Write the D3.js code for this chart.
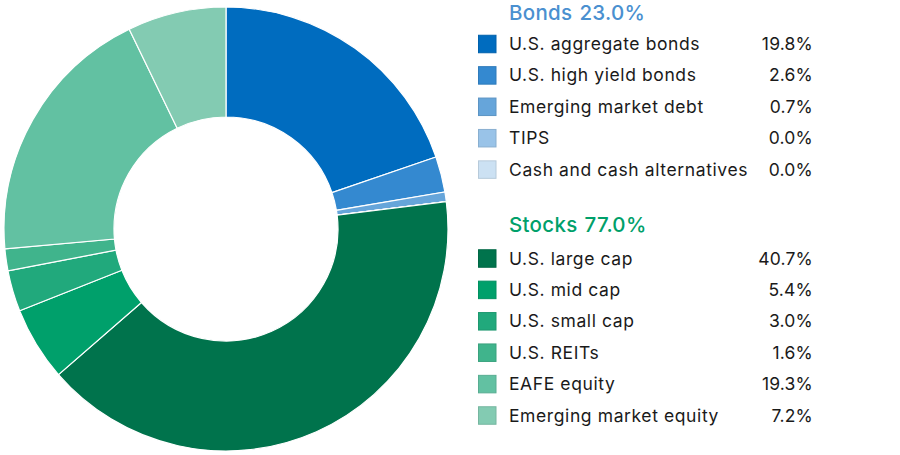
<!DOCTYPE html>
<html>
<head>
<meta charset="utf-8">
<script src="https://cdn.jsdelivr.net/npm/d3@7"></script>
<style>
  body { margin: 0; background: #fff; }
  svg { display: block; font-family: Inter, "Noto Sans", sans-serif; }
  .item { font-size: 17.5px; fill: #1a1a1a; letter-spacing: 0.6px; }
  .value { letter-spacing: 0.2px; }
  .group-title { font-size: 20.5px; font-weight: 500; letter-spacing: 0.3px; }
</style>
</head>
<body>
<svg id="chart" width="900" height="455"></svg>
<script>
const groups = ['Bonds', 'Stocks'];
const groupTotals = ['23.0%', '77.0%'];
const groupColors = ['#4a90d0', '#00a06a'];

const bondNames = ['U.S. aggregate bonds', 'U.S. high yield bonds', 'Emerging market debt', 'TIPS', 'Cash and cash alternatives'];
const bondValues = [19.8, 2.6, 0.7, 0.0, 0.0];
const bondColors = ['#006cbf', '#3489d0', '#66a5da', '#99c3e8', '#cce1f3'];

const stockNames = ['U.S. large cap', 'U.S. mid cap', 'U.S. small cap', 'U.S. REITs', 'EAFE equity', 'Emerging market equity'];
const stockValues = [40.7, 5.4, 3.0, 1.6, 19.3, 7.2];
const stockColors = ['#00734c', '#00a06b', '#21a97c', '#40b48c', '#62c1a2', '#83cbb2'];

const slices = bondNames.map((n, i) => ({ name: n, value: bondValues[i], color: bondColors[i] }))
  .concat(stockNames.map((n, i) => ({ name: n, value: stockValues[i], color: stockColors[i] })));

const svg = d3.select('#chart');

const cx = 226, cy = 229;
const outerR = 222, innerR = 112;

const pie = d3.pie()
  .value(d => d.value)
  .sort(null);

const arc = d3.arc()
  .innerRadius(innerR)
  .outerRadius(outerR);

svg.append('g')
  .attr('transform', `translate(${cx}, ${cy})`)
  .selectAll('path')
  .data(pie(slices))
  .enter()
  .append('path')
  .attr('d', arc)
  .attr('fill', d => d.data.color)
  .attr('stroke', '#fff')
  .attr('stroke-width', 1.2);

// legend
const legendX = 478;
const labelX = 509;
const valueX = 813;
const rowGap = 31.4;

const blocks = [
  { title: groups[0], total: groupTotals[0], color: groupColors[0], names: bondNames, values: bondValues, colors: bondColors, titleY: 20, firstRow: 44 },
  { title: groups[1], total: groupTotals[1], color: groupColors[1], names: stockNames, values: stockValues, colors: stockColors, titleY: 232, firstRow: 258.5 }
];

blocks.forEach(b => {
  const g = svg.append('g');

  const t = g.append('text')
    .attr('class', 'group-title')
    .attr('x', labelX)
    .attr('y', b.titleY)
    .attr('fill', b.color);
  t.append('tspan').text(b.title);
  t.append('tspan').attr('dx', 7).text(b.total);

  const rows = g.selectAll('.row')
    .data(b.names)
    .enter()
    .append('g')
    .attr('transform', (d, i) => `translate(0, ${b.firstRow + i * rowGap})`);

  rows.append('rect')
    .attr('x', legendX + 0.5)
    .attr('y', -8.75)
    .attr('width', 17.5)
    .attr('height', 17.5)
    .attr('fill', (d, i) => b.colors[i])
    .attr('stroke', (d, i) => d3.color(b.colors[i]).darker(0.3))
    .attr('stroke-width', 1);

  rows.append('text')
    .attr('class', 'item')
    .attr('x', labelX)
    .attr('y', 6)
    .text(d => d);

  rows.append('text')
    .attr('class', 'item value')
    .attr('x', valueX)
    .attr('y', 6)
    .attr('text-anchor', 'end')
    .text((d, i) => `${b.values[i].toFixed(1)}%`);
});
</script>
</body>
</html>
